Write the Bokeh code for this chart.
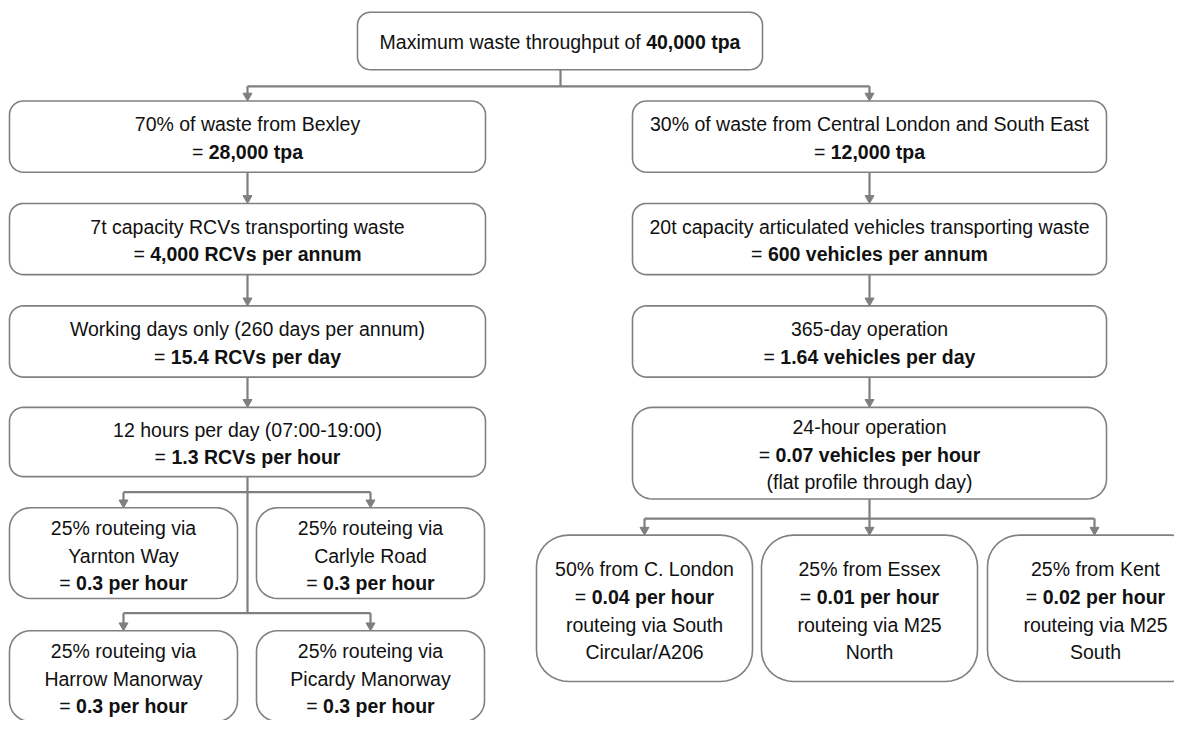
import numpy as np
from bokeh.plotting import figure
from bokeh.models import Range1d
from bokeh.core.properties import value
from bokeh.embed import file_html
from bokeh.resources import INLINE

# ---------------- data (texts of the flow chart) ----------------
TOP_TEXT = "Maximum waste throughput of "
TOP_VALUE = "40,000 tpa"

LEFT_TITLES = ["70% of waste from Bexley",
               "7t capacity RCVs transporting waste",
               "Working days only (260 days per annum)",
               "12 hours per day (07:00-19:00)"]
LEFT_VALUES = ["28,000 tpa", "4,000 RCVs per annum",
               "15.4 RCVs per day", "1.3 RCVs per hour"]

RIGHT_TITLES = ["30% of waste from Central London and South East",
                "20t capacity articulated vehicles transporting waste",
                "365-day operation",
                "24-hour operation"]
RIGHT_VALUES = ["12,000 tpa", "600 vehicles per annum",
                "1.64 vehicles per day", "0.07 vehicles per hour"]
RIGHT_NOTE = "(flat profile through day)"

ROUTE_SHARE = "25% routeing via"
ROUTE_NAMES = ["Yarnton Way", "Carlyle Road", "Harrow Manorway", "Picardy Manorway"]
ROUTE_VALUES = ["0.3 per hour", "0.3 per hour", "0.3 per hour", "0.3 per hour"]

ORIGIN_TITLES = ["50% from C. London", "25% from Essex", "25% from Kent"]
ORIGIN_VALUES = ["0.04 per hour", "0.01 per hour", "0.02 per hour"]
ORIGIN_ROUTE1 = ["routeing via South", "routeing via M25", "routeing via M25"]
ORIGIN_ROUTE2 = ["Circular/A206", "North", "South"]

# ---------------- layout ----------------
FONT = "Liberation Sans"
FS = 19.5
LINE = 28.5
EDGE = "#808080"
LINK = "#7f7f7f"
TXT = "#111111"

p = figure(width=1174, height=720, x_range=Range1d(0, 1174), y_range=Range1d(738, 0),
           output_backend="svg", toolbar_location=None, min_border=0,
           x_axis_type=None, y_axis_type=None)
p.grid.visible = False
p.outline_line_color = None
p.background_fill_color = "white"
p.border_fill_color = "white"

REG = {' ': 278, '=': 584, 'M': 833, 'a': 556, 'x': 500, 'i': 222, 'm': 833, 'u': 556,
       'w': 722, 's': 500, 't': 278, 'e': 556, 'h': 556, 'r': 333, 'o': 556, 'g': 556,
       'p': 556, 'f': 278}
BOLD = {' ': 278, ',': 278, '.': 278, 't': 333, 'p': 611, 'a': 556, 'R': 722, 'C': 722,
        'V': 667, 's': 556, 'e': 556, 'r': 389, 'n': 611, 'u': 611, 'm': 889, 'd': 611,
        'y': 556, 'h': 611, 'o': 611, 'v': 556, 'i': 278, 'c': 556, 'l': 278}


def tw(s, bold):
    tab = BOLD if bold else REG
    return sum(tab.get(c, 556) for c in s) * FS / 1000.0


def rounded(x0, x1, y0, y1, r, n=10):
    xs, ys = [], []
    corners = [(x1 - r, y0 + r, -np.pi / 2, 0), (x1 - r, y1 - r, 0, np.pi / 2),
               (x0 + r, y1 - r, np.pi / 2, np.pi), (x0 + r, y0 + r, np.pi, 1.5 * np.pi)]
    for cx, cy, a0, a1 in corners:
        t = np.linspace(a0, a1, n)
        xs.extend(cx + r * np.cos(t))
        ys.extend(cy + r * np.sin(t))
    return list(xs), list(ys)


box_xs, box_ys = [], []
reg_x, reg_y, reg_t = [], [], []
bold_x, bold_y, bold_t = [], [], []
lreg_x, lreg_y, lreg_t = [], [], []
lbold_x, lbold_y, lbold_t = [], [], []


def add_box(x0, x1, y0, y1, r):
    bx, by = rounded(x0, x1, y0, y1, r)
    box_xs.append(bx)
    box_ys.append(by)


def add_lines(cx, cy, lines):
    n = len(lines)
    for i, (kind, content) in enumerate(lines):
        y = cy + 2.5 + (i - (n - 1) / 2.0) * LINE
        if kind == "r":
            reg_x.append(cx); reg_y.append(y); reg_t.append(content)
        elif kind == "b":
            bold_x.append(cx); bold_y.append(y); bold_t.append(content)
        else:
            pre, bpart = content
            w1, w2 = tw(pre, False), tw(bpart, True)
            x0 = cx - (w1 + w2) / 2.0
            lreg_x.append(x0); lreg_y.append(y); lreg_t.append(pre)
            lbold_x.append(x0 + w1); lbold_y.append(y); lbold_t.append(bpart)


# top box
add_box(357, 762, 12, 71, 13)
add_lines(559.5, 40.5, [("m", (TOP_TEXT, TOP_VALUE))])

# main columns
col_x = [(9, 485), (632, 1106)]
rows = [(103, 176), (208, 281), (313, 386)]
for ci, (titles, values) in enumerate([(LEFT_TITLES, LEFT_VALUES), (RIGHT_TITLES, RIGHT_VALUES)]):
    x0, x1 = col_x[ci]
    cx = (x0 + x1) / 2.0
    for ri in range(4):
        if ri < 3:
            y0, y1 = rows[ri]
        else:
            y0, y1 = (417, 488) if ci == 0 else (417, 511)
        add_box(x0, x1, y0, y1, 14 if (ci == 0 or ri < 3) else 20)
        lines = [("r", titles[ri]), ("m", ("= ", values[ri]))]
        if ci == 1 and ri == 3:
            lines.append(("r", RIGHT_NOTE))
        add_lines(cx, (y0 + y1) / 2.0 - 1, lines)

# route boxes (left bottom)
route_boxes = [(9, 237, 520, 613), (256, 484, 520, 613), (9, 237, 646, 739), (256, 484, 646, 739)]
for (x0, x1, y0, y1), name, val in zip(route_boxes, ROUTE_NAMES, ROUTE_VALUES):
    add_box(x0, x1, y0, y1, 21)
    add_lines((x0 + x1) / 2.0, (y0 + y1) / 2.0, [("r", ROUTE_SHARE), ("r", name), ("m", ("= ", val))])

# origin boxes (right bottom)
origin_boxes = [(536, 752, 548, 698), (761, 977, 548, 698), (987, 1203, 548, 698)]
for (x0, x1, y0, y1), t, v, r1, r2 in zip(origin_boxes, ORIGIN_TITLES, ORIGIN_VALUES,
                                           ORIGIN_ROUTE1, ORIGIN_ROUTE2):
    add_box(x0, x1, y0, y1, 32)
    add_lines((x0 + x1) / 2.0, (y0 + y1) / 2.0, [("r", t), ("m", ("= ", v)), ("r", r1), ("r", r2)])

# ---------------- connectors ----------------
seg_x, seg_y = [], []
heads_x, heads_y = [], []
AH_W, AH_L = 4.5, 8


def seg(xa, ya, xb, yb):
    seg_x.append([xa, xb]); seg_y.append([ya, yb])


def arrow_down(x, ya, yb):
    seg(x, ya, x, yb - AH_L + 1)
    heads_x.append([x - AH_W, x + AH_W, x]); heads_y.append([yb - AH_L, yb - AH_L, yb])


seg(560, 71, 560, 88)
seg(247, 88, 869, 88)
arrow_down(247, 88, 103)
arrow_down(869, 88, 103)
for cx in (247, 869):
    for (ya, yb) in [(176, 208), (281, 313), (386, 417)]:
        arrow_down(cx, ya, yb)
seg(247, 488, 247, 628)
for yb_line, ytop in [(504, 520), (628, 646)]:
    seg(123, yb_line, 370, yb_line)
    arrow_down(123, yb_line, ytop)
    arrow_down(370, yb_line, ytop)
seg(869, 511, 869, 531)
seg(644, 531, 1094, 531)
for x in (644, 869, 1094):
    arrow_down(x, 531, 548)

p.multi_line(seg_x, seg_y, line_color=LINK, line_width=2.2)
p.patches(heads_x, heads_y, fill_color=LINK, line_color=LINK, line_width=1)
p.patches(box_xs, box_ys, fill_color="white", line_color=EDGE, line_width=1.6)

common = dict(text_font=value(FONT), text_font_size=value(f"{FS}px"),
              text_baseline="middle", text_color=TXT)
p.text(reg_x, reg_y, text=reg_t, text_align="center", **common)
p.text(bold_x, bold_y, text=bold_t, text_align="center", text_font_style="bold", **common)
p.text(lreg_x, lreg_y, text=lreg_t, text_align="left", **common)
p.text(lbold_x, lbold_y, text=lbold_t, text_align="left", text_font_style="bold", **common)

open("out.html", "w").write(file_html(p, INLINE))
